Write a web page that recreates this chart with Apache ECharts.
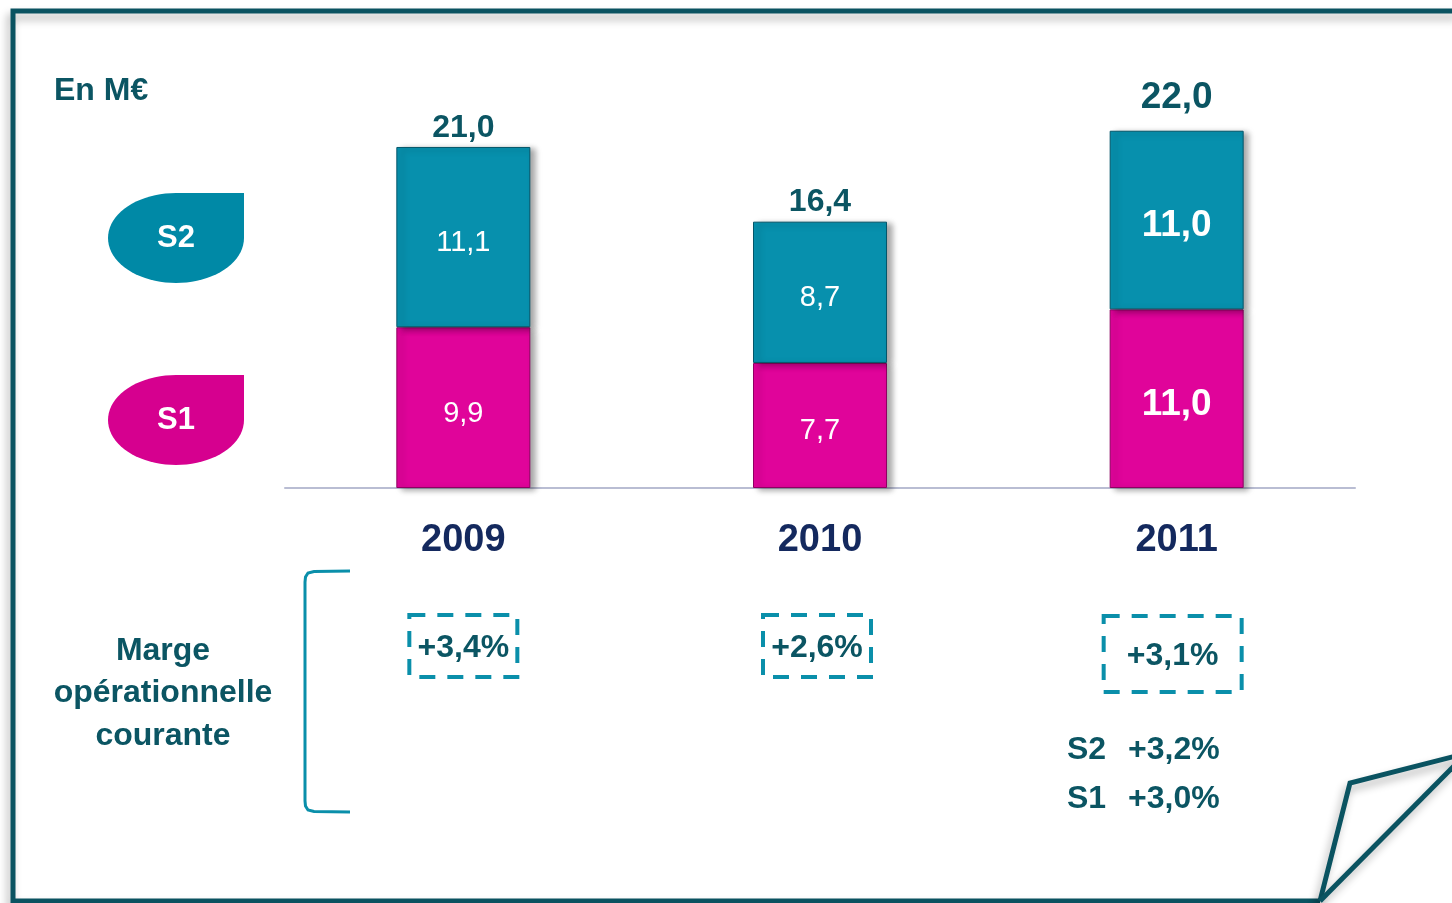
<!DOCTYPE html>
<html>
<head>
<meta charset="utf-8">
<script src="https://cdn.jsdelivr.net/npm/echarts@6/dist/echarts.min.js"></script>
<style>
  html, body { margin: 0; padding: 0; background: #fff; }
  #main { width: 1452px; height: 903px; }
</style>
</head>
<body>
<div id="main"></div>
<script>
  // data
  var years = ['2009', '2010', '2011'];
  var s1 = [9.9, 7.7, 11.0];
  var s2 = [11.1, 8.7, 11.0];
  var totals = [21.0, 16.4, 22.0];
  var margins = ['+3,4%', '+2,6%', '+3,1%'];
  var splitLabels = ['S2', 'S1'];
  var splitValues = ['+3,2%', '+3,0%'];

  var FONT = '"Liberation Sans", Arial, sans-serif';
  var TEAL = '#0790ad';
  var MAGENTA = '#e0049a';
  var DARK = '#0b5563';
  var NAVY = '#14295e';

  function fmt(v) { return v.toFixed(1).replace('.', ','); }

  // 2011 is highlighted with bigger bold labels
  function segData(arr) {
    return arr.map(function (v, i) {
      var big = i === 2;
      return {
        value: v,
        label: { fontSize: big ? 37 : 29, fontWeight: big ? 'bold' : 'normal' }
      };
    });
  }

  var chart = echarts.init(document.getElementById('main'));

  var segLabel = {
    show: true, position: 'inside', color: '#fff', fontFamily: FONT, offset: [0, 6],
    formatter: function (p) { return fmt(p.value); }
  };

  var option = {
    animation: false,
    grid: { left: 285, right: 97, top: 82, bottom: 415 },
    xAxis: {
      type: 'category',
      data: years,
      axisLine: { lineStyle: { color: '#b9bdd3', width: 2 } },
      axisTick: { show: false },
      axisLabel: { fontFamily: FONT, fontSize: 38, fontWeight: 'bold', color: NAVY, margin: 34 }
    },
    yAxis: { type: 'value', min: 0, max: 25, show: false, splitLine: { show: false } },
    series: [
      {
        name: 'S1', type: 'bar', stack: 'tot', barWidth: 134,
        data: segData(s1),
        itemStyle: {
          color: MAGENTA, borderColor: '#8e0062', borderWidth: 1,
          shadowColor: 'rgba(0,0,0,0.35)', shadowBlur: 6, shadowOffsetX: 5, shadowOffsetY: 2
        },
        label: segLabel
      },
      {
        name: 'S2', type: 'bar', stack: 'tot', barWidth: 134,
        data: segData(s2),
        itemStyle: {
          color: TEAL, borderColor: '#04566a', borderWidth: 1,
          shadowColor: 'rgba(0,0,0,0.35)', shadowBlur: 6, shadowOffsetX: 5, shadowOffsetY: 2
        },
        label: segLabel
      },
      {
        name: 'Total', type: 'scatter', symbolSize: 0, silent: true,
        itemStyle: { opacity: 1 },
        data: totals.map(function (v, i) {
          return {
            value: v,
            label: { fontSize: i === 2 ? 37 : 32, distance: i === 2 ? 14 : 3 }
          };
        }),
        label: {
          show: true, position: 'top', color: DARK, opacity: 1, fontWeight: 'bold', fontFamily: FONT,
          formatter: function (p) { return fmt(p.value); }
        }
      }
    ]
  };
  chart.setOption(option);

  function txt(x, y, s, size, color, align) {
    return {
      type: 'text', x: x, y: y + 2, z: 10,
      style: {
        text: s, fill: color || DARK, font: 'bold ' + size + 'px ' + FONT,
        textAlign: align || 'center', textVerticalAlign: 'middle'
      }
    };
  }

  function drop(x, y, color, label) {
    // teardrop: ellipse with a square top-right corner
    var rx = 68, ry = 45;
    var cx = x + rx, cy = y + ry;
    var pts = [[x + 2 * rx, y]];
    for (var k = 0; k <= 60; k++) {
      var a = k / 60 * 1.5 * Math.PI;
      pts.push([cx + rx * Math.cos(a), cy + ry * Math.sin(a)]);
    }
    return [
      { type: 'polygon', shape: { points: pts }, style: { fill: color } },
      txt(cx, cy - 2, label, 31, '#fff')
    ];
  }

  var graphics = [];

  // frame with curled corner
  var frameStyle = {
    stroke: '#0a5361', lineWidth: 5, fill: null,
    shadowColor: 'rgba(0,0,0,0.3)', shadowBlur: 8, shadowOffsetX: -3, shadowOffsetY: 6
  };
  graphics.push({ type: 'polyline', shape: { points: [[1460, 11], [13, 11], [13, 901], [1320, 901]] }, style: frameStyle });
  graphics.push({ type: 'polyline', shape: { points: [[1320, 901], [1350, 783], [1460, 755]] }, style: frameStyle });
  graphics.push({ type: 'line', shape: { x1: 1320, y1: 901, x2: 1460, y2: 760 }, style: frameStyle });

  graphics.push(txt(54, 89, 'En M€', 32, DARK, 'left'));
  graphics = graphics.concat(drop(108, 193, '#0089a6', 'S2'));
  graphics = graphics.concat(drop(108, 375, '#d6008f', 'S1'));

  // bracket and caption for the margin row
  graphics.push({
    type: 'polyline',
    shape: { points: [[350, 571], [314, 571.5], [308, 573], [305.5, 577], [305, 582], [305, 801], [305.5, 806], [308, 810], [314, 811.5], [350, 812]] },
    style: { stroke: '#0a8faa', lineWidth: 3, fill: null }
  });
  graphics.push(txt(163, 649, 'Marge', 32));
  graphics.push(txt(163, 691, 'opérationnelle', 32));
  graphics.push(txt(163, 734, 'courante', 32));

  // dashed boxes under each year
  var boxes = [
    { dx: 0, w: 108, h: 62, top: 615 },
    { dx: -3, w: 108, h: 62, top: 615 },
    { dx: -4, w: 138, h: 76, top: 616 }
  ];
  years.forEach(function (y, i) {
    var cx = chart.convertToPixel({ xAxisIndex: 0 }, y) + boxes[i].dx;
    var b = boxes[i];
    graphics.push({
      type: 'rect',
      shape: { x: cx - b.w / 2, y: b.top, width: b.w, height: b.h },
      style: { fill: null, stroke: '#0a8faa', lineWidth: 4, lineDash: [16, 12] }
    });
    graphics.push(txt(cx, b.top + b.h / 2, margins[i], 32));
  });

  splitLabels.forEach(function (s, i) {
    graphics.push(txt(1067, 748 + i * 49, s, 32, DARK, 'left'));
    graphics.push(txt(1128, 748 + i * 49, splitValues[i], 32, DARK, 'left'));
  });

  chart.setOption({ graphic: graphics });
</script>
</body>
</html>
